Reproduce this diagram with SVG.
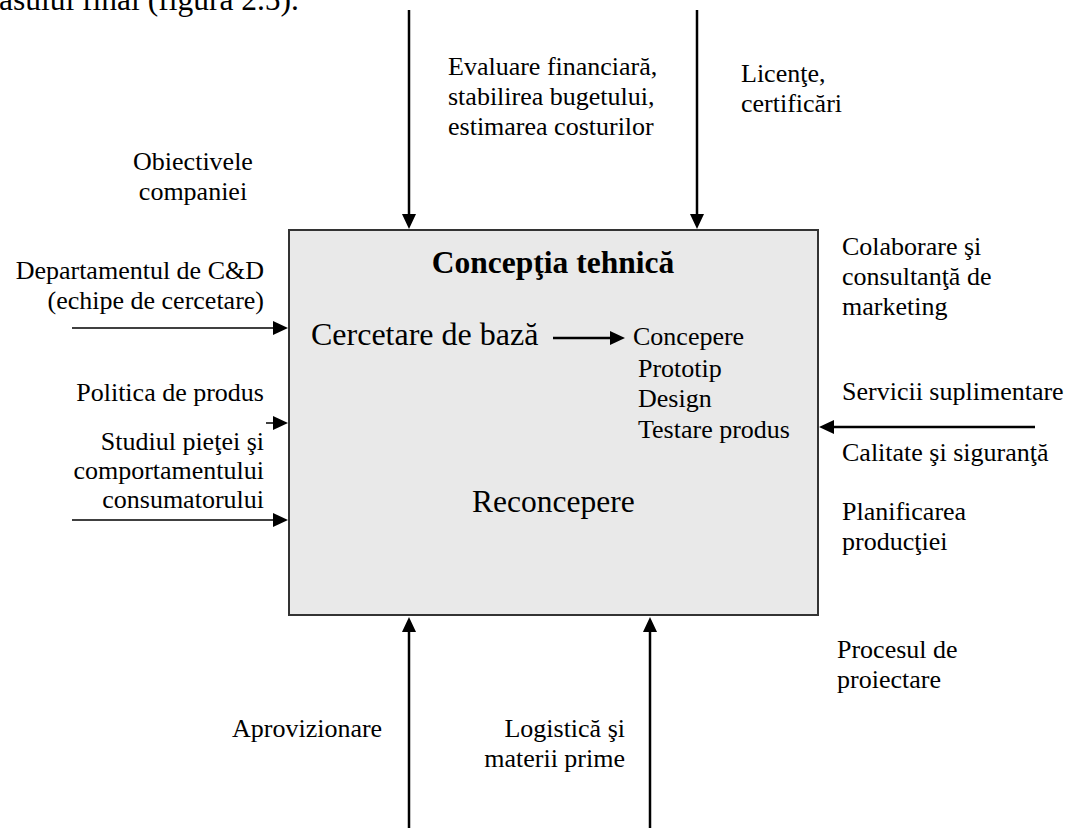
<svg xmlns="http://www.w3.org/2000/svg" width="1070" height="828" viewBox="0 0 1070 828">
<style>
text{font-family:"Liberation Serif","Times New Roman",serif;fill:#000}
.lbl{font-size:26px}
.big{font-size:31.5px}
.title{font-size:31.5px;font-weight:bold}
.end{text-anchor:end}
.mid{text-anchor:middle}
.thick{stroke:#000;stroke-width:2.5;fill:none}
.thin{stroke:#000;stroke-width:1.5;fill:none}
</style>
<defs>
<marker id="ah" viewBox="0 0 15 14" refX="5" refY="7" markerWidth="15" markerHeight="14" markerUnits="userSpaceOnUse" orient="auto">
<path d="M0,0 L15,7 L0,14 z" fill="#000"/>
</marker>
</defs>
<rect width="1070" height="828" fill="#fff"/>
<g id="page-text"><text class="big end" x="299" y="10">asului final (figura 2.5).</text></g>

<g id="process-box">
<rect x="289" y="230" width="529" height="385" fill="#e9e9e9" stroke="#333" stroke-width="2"/>
<text class="title mid" x="553" y="273">Concepţia tehnică</text>
<text class="big" x="311" y="345" style="font-size:32px">Cercetare de bază</text>
<text class="lbl" x="633" y="345">Concepere</text>
<text class="lbl" x="638" y="377">Prototip</text>
<text class="lbl" x="638" y="407">Design</text>
<text class="lbl" x="638" y="438">Testare produs</text>
<text class="big" x="472" y="512">Reconcepere</text>
</g>

<g id="connectors">
<line class="thick" x1="409" y1="10" x2="409" y2="219" marker-end="url(#ah)"/>
<line class="thick" x1="697" y1="10" x2="697" y2="219" marker-end="url(#ah)"/>
<line class="thick" x1="409" y1="828" x2="409" y2="627" marker-end="url(#ah)"/>
<line class="thick" x1="650" y1="828" x2="650" y2="627" marker-end="url(#ah)"/>
<line class="thin" x1="72" y1="328" x2="278" y2="328" marker-end="url(#ah)"/>
<line class="thin" x1="266" y1="423" x2="278" y2="423" marker-end="url(#ah)"/>
<line class="thin" x1="72" y1="520" x2="278" y2="520" marker-end="url(#ah)"/>
<line class="thick" x1="1035" y1="427" x2="829" y2="427" marker-end="url(#ah)"/>
<line class="thick" x1="553" y1="338" x2="615" y2="338" marker-end="url(#ah)"/>
</g>

<g id="label-evaluare"><text class="lbl"><tspan x="448" y="75">Evaluare financiară,</tspan><tspan x="448" y="105">stabilirea bugetului,</tspan><tspan x="448" y="135">estimarea costurilor</tspan></text></g>
<g id="label-licente"><text class="lbl"><tspan x="741" y="82">Licenţe,</tspan><tspan x="741" y="112">certificări</tspan></text></g>
<g id="label-obiective"><text class="lbl mid"><tspan x="193" y="170">Obiectivele</tspan><tspan x="193" y="200">companiei</tspan></text></g>
<g id="label-cd"><text class="lbl end"><tspan x="264" y="279">Departamentul de C&amp;D</tspan><tspan x="264" y="309">(echipe de cercetare)</tspan></text></g>
<g id="label-politica"><text class="lbl end" x="264" y="401">Politica de produs</text></g>
<g id="label-studiul"><text class="lbl end"><tspan x="264" y="450">Studiul pieţei şi</tspan><tspan x="264" y="479">comportamentului</tspan><tspan x="264" y="508">consumatorului</tspan></text></g>
<g id="label-colaborare"><text class="lbl"><tspan x="842" y="255">Colaborare şi</tspan><tspan x="842" y="285">consultanţă de</tspan><tspan x="842" y="315">marketing</tspan></text></g>
<g id="label-servicii"><text class="lbl" x="842" y="400">Servicii suplimentare</text></g>
<g id="label-calitate"><text class="lbl" x="842" y="461">Calitate şi siguranţă</text></g>
<g id="label-planificarea"><text class="lbl"><tspan x="842" y="520">Planificarea</tspan><tspan x="842" y="550">producţiei</tspan></text></g>
<g id="label-procesul"><text class="lbl"><tspan x="837" y="658">Procesul de</tspan><tspan x="837" y="688">proiectare</tspan></text></g>
<g id="label-aprovizionare"><text class="lbl" x="232" y="737">Aprovizionare</text></g>
<g id="label-logistica"><text class="lbl end"><tspan x="625" y="737">Logistică şi</tspan><tspan x="625" y="767">materii prime</tspan></text></g>
</svg>
